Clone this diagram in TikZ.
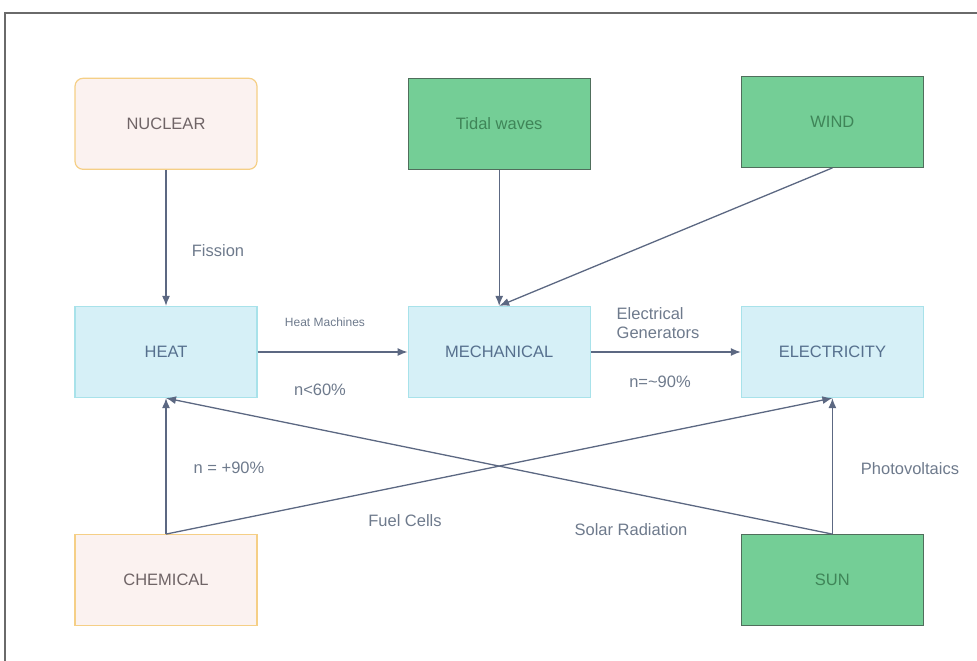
\documentclass[tikz,border=0pt]{standalone}
\usepackage{fontspec}
\setmainfont{Liberation Sans}
\usetikzlibrary{arrows.meta,positioning}
\definecolor{formblue}{HTML}{D6F0F7}
\definecolor{formedge}{HTML}{A8E2EA}
\definecolor{sourcepink}{HTML}{FBF2F0}
\definecolor{sourceedge}{HTML}{F5CF86}
\definecolor{naturegreen}{HTML}{74CE96}
\definecolor{natureedge}{HTML}{506E5C}
\definecolor{naturetext}{HTML}{3F8558}
\definecolor{sourcetext}{HTML}{6F6466}
\definecolor{formtext}{HTML}{56708E}
\definecolor{flowgray}{HTML}{5C6882}
\definecolor{labelgray}{HTML}{6E7A8C}
\definecolor{framegray}{HTML}{6A6A6A}

\begin{document}
\begin{tikzpicture}[
    x=1pt, y=1pt,
    node distance=136pt and 150pt,
    box/.style={draw, line width=1.2pt, minimum width=182pt, minimum height=91pt,
      font=\fontsize{16.5}{19}\selectfont},
    source/.style={box, fill=sourcepink, draw=sourceedge, text=sourcetext},
    form/.style={box, fill=formblue, draw=formedge, text=formtext},
    nature/.style={box, fill=naturegreen, draw=natureedge, text=naturetext},
    lbl/.style={text=labelgray, font=\fontsize{16.5}{19}\selectfont, align=left},
    arrow/.style={-{Latex[length=10pt,width=8pt]}, line width=1.3pt, draw=flowgray}
  ]
    \useasboundingbox (0,0) rectangle (977,-661);
    \draw[framegray, line width=2pt] (977,-13) -- (5,-13) -- (5,-661);

    \node[form] (heat) at (166,-352) {HEAT};
    \node[form, right=of heat] (mech) {MECHANICAL};
    \node[form, right=of mech] (elec) {ELECTRICITY};
    \node[source, rounded corners=8pt, above=of heat] (nuclear) {NUCLEAR};
    \node[nature, above=of mech] (tidal) {Tidal waves};
    \node[nature, above=of elec, yshift=2pt] (wind) {WIND};
    \node[source, below=of heat] (chem) {CHEMICAL};
    \node[nature, below=of elec] (sun) {SUN};

    \draw[arrow] (nuclear) -- (heat);
    \draw[arrow] (tidal) -- (mech);
    \draw[arrow] (wind.south) -- (mech.north);
    \draw[arrow] (heat) -- (mech);
    \draw[arrow] (mech) -- (elec);
    \draw[arrow] (chem) -- (heat);
    \draw[arrow] (chem.north) -- (elec.south);
    \draw[arrow] (sun.north) -- (heat.south);
    \draw[arrow] (sun) -- (elec);

    \node[lbl] (fission) at (218,-251) {Fission};
    \node[lbl, font=\fontsize{12}{14}\selectfont] (heatmach) at (325,-322) {Heat Machines};
    \node[lbl] (eta60) at (320,-390) {n<60\%};
    \node[lbl] (elgen) at (658,-323) {Electrical\\Generators};
    \node[lbl] (eta90a) at (660,-382) {n=\textasciitilde90\%};
    \node[lbl] (eta90b) at (229,-468) {n = +90\%};
    \node[lbl] (fuel) at (405,-521) {Fuel Cells};
    \node[lbl] (solar) at (631,-530) {Solar Radiation};
    \node[lbl] (pv) at (910,-469) {Photovoltaics};
  \end{tikzpicture}
\end{document}
